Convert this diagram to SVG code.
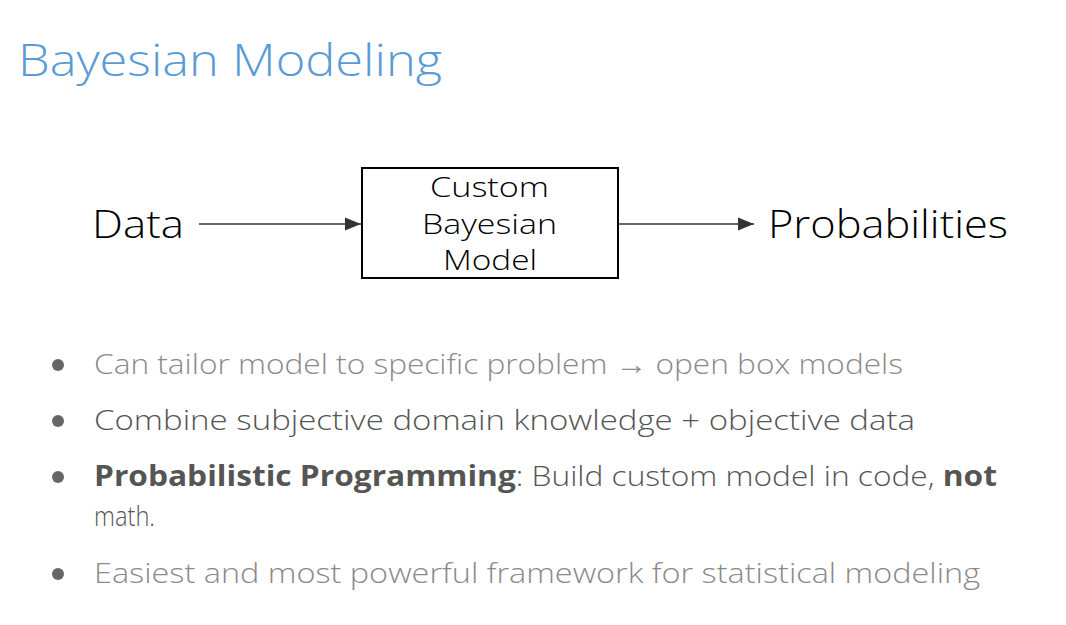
<svg xmlns="http://www.w3.org/2000/svg" width="1066" height="625" viewBox="0 0 1066 625">
<style>
text{font-family:"Open Sans","Liberation Sans",sans-serif}
.big{font-size:39px;fill:#000;font-weight:300}
.box{font-size:28px;fill:#000;font-weight:300}
.b{font-size:28px;font-weight:300}
.lt{fill:#8a8a8a}
.dk{fill:#555}
.dot{fill:#666}
</style>
<defs><marker id="ah" viewBox="0 0 10 10" refX="10" refY="5" markerWidth="16" markerHeight="16" markerUnits="userSpaceOnUse" orient="auto"><path d="M0,1 L10,5 L0,9 z" fill="#333"/></marker></defs>
<rect width="1066" height="625" fill="#fff"/>
<text x="18" y="76" font-size="45" fill="#5a9bd5" font-weight="300" textLength="424" lengthAdjust="spacingAndGlyphs">Bayesian Modeling</text>
<g id="data"><text class="big" x="92" y="238" textLength="92" lengthAdjust="spacingAndGlyphs">Data</text></g>
<g id="model"><rect x="362" y="168" width="256" height="110" fill="#fff" stroke="#000" stroke-width="2"/>
<text class="box" x="430" y="197" textLength="119" lengthAdjust="spacingAndGlyphs">Custom</text>
<text class="box" x="422" y="234" textLength="135" lengthAdjust="spacingAndGlyphs">Bayesian</text>
<text class="box" x="443" y="270" textLength="94" lengthAdjust="spacingAndGlyphs">Model</text></g>
<g id="prob"><text class="big" x="768" y="238" textLength="240" lengthAdjust="spacingAndGlyphs">Probabilities</text></g>
<g id="connectors" stroke="#333" stroke-width="1.5" fill="none">
<line x1="199" y1="224" x2="361" y2="224" marker-end="url(#ah)"/>
<line x1="619" y1="224" x2="754" y2="224" marker-end="url(#ah)"/>
</g>
<circle class="dot" cx="58" cy="365" r="6"/>
<circle class="dot" cx="58" cy="421" r="6"/>
<circle class="dot" cx="58" cy="477" r="6"/>
<circle class="dot" cx="58" cy="574" r="6"/>
<text class="b lt" x="94" y="374" textLength="809" lengthAdjust="spacingAndGlyphs">Can tailor model to specific problem → open box models</text>
<text class="b dk" x="94" y="430" textLength="821" lengthAdjust="spacingAndGlyphs">Combine subjective domain knowledge + objective data</text>
<text class="b dk" x="94" y="486" textLength="903" lengthAdjust="spacingAndGlyphs"><tspan font-weight="700">Probabilistic Programming</tspan>: Build custom model in code, <tspan font-weight="700">not</tspan></text>
<text class="b dk" x="94" y="526" textLength="61" lengthAdjust="spacingAndGlyphs">math.</text>
<text class="b lt" x="94" y="583" textLength="886" lengthAdjust="spacingAndGlyphs">Easiest and most powerful framework for statistical modeling</text>
</svg>
